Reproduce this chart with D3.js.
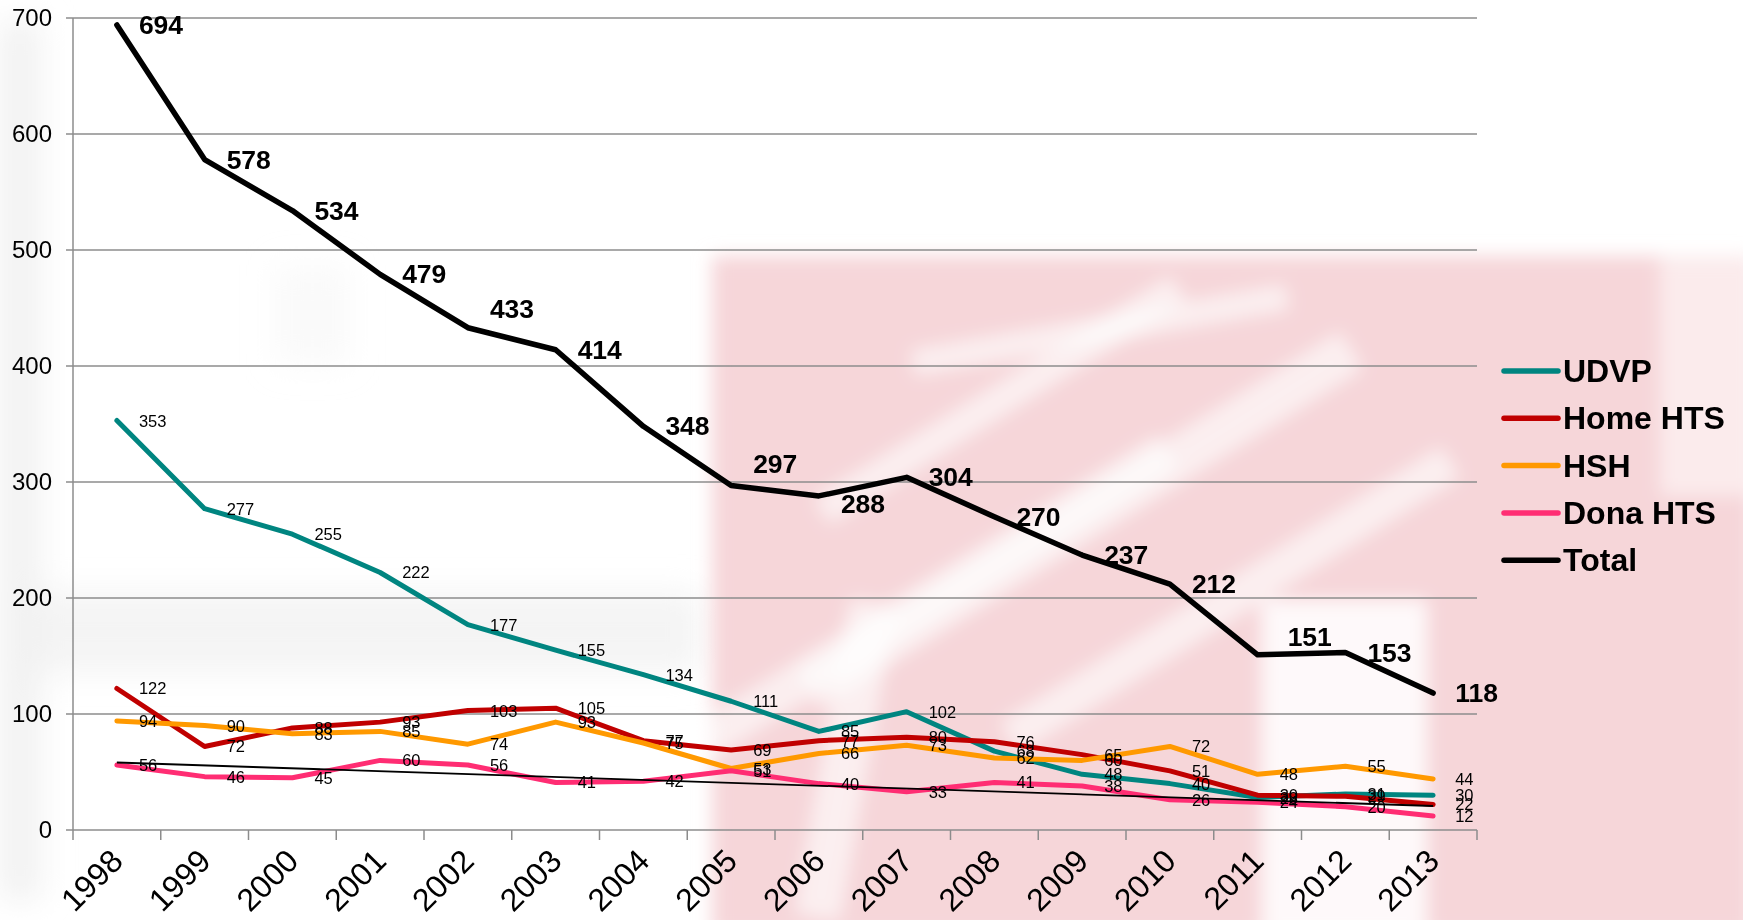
<!DOCTYPE html>
<html>
<head>
<meta charset="utf-8">
<script src="https://cdn.jsdelivr.net/npm/d3@7"></script>
<style>
  html, body { margin: 0; padding: 0; background: #ffffff; }
  svg { display: block; font-family: "Liberation Sans", Arial, sans-serif; }
</style>
</head>
<body>
<svg id="chart" width="1743" height="920"></svg>
<script>
// ---- data ----
const years = ["1998","1999","2000","2001","2002","2003","2004","2005",
               "2006","2007","2008","2009","2010","2011","2012","2013"];
const udvp    = [353, 277, 255, 222, 177, 155, 134, 111, 85, 102, 68, 48, 40, 28, 31, 30];
const homeHts = [122,  72,  88,  93, 103, 105,  77,  69, 77,  80, 76, 65, 51, 30, 29, 22];
const hsh     = [ 94,  90,  83,  85,  74,  93,  75,  53, 66,  73, 62, 60, 72, 48, 55, 44];
const donaHts = [ 56,  46,  45,  60,  56,  41,  42,  51, 40,  33, 41, 38, 26, 24, 20, 12];
const total   = [694, 578, 534, 479, 433, 414, 348, 297, 288, 304, 270, 237, 212, 151, 153, 118];
const yTicks  = [0, 100, 200, 300, 400, 500, 600, 700];
const seriesNames  = ["UDVP", "Home HTS", "HSH", "Dona HTS", "Total"];
const seriesColors = ["#008580", "#C00000", "#FF9900", "#FF2D73", "#000000"];

const seriesValues = [udvp, homeHts, hsh, donaHts, total];
const series = seriesNames.map((name, i) => ({
  name, color: seriesColors[i], values: seriesValues[i], isTotal: name === "Total"
}));

// nudges for a few bold total labels that would otherwise sit on the line
const totalLabelShift = { "2002": [0, -19], "2005": [0, -21], "2006": [0, 8], "2011": [8, -18] };

// ---- layout ----
const svg = d3.select("#chart");
const W = 1743, H = 920;
const plot = { left: 73, right: 1477, top: 18, bottom: 830 };

const x = d3.scaleBand().domain(years).range([plot.left, plot.right]).padding(0);
const cx = d => x(d) + x.bandwidth() / 2;
const y = d3.scaleLinear().domain([0, 700]).range([plot.bottom, plot.top]);

// ---- faded background emblem ----
const defs = svg.append("defs");
function blurFilter(id, sd) {
  defs.append("filter").attr("id", id)
    .attr("x", "-30%").attr("y", "-30%").attr("width", "160%").attr("height", "160%")
    .append("feGaussianBlur").attr("stdDeviation", sd);
}
blurFilter("soft", 9);
blurFilter("softer", 16);

const bg = svg.append("g").attr("class", "backdrop");
bg.append("rect").attr("width", W).attr("height", H).attr("fill", "#ffffff");

// faint grey lettering on the left
const greyG = bg.append("g").attr("filter", "url(#softer)").attr("fill", "#f1f1f1");
greyG.append("rect").attr("x", 0).attr("y", 20).attr("width", 40).attr("height", 880);
greyG.append("rect").attr("x", 0).attr("y", 592).attr("width", 700).attr("height", 80).attr("opacity", 0.8);
greyG.append("rect").attr("x", 275).attr("y", 265).attr("width", 75).attr("height", 100).attr("opacity", 0.35);

// pink emblem with lighter diagonal streaks
const pinkG = bg.append("g").attr("filter", "url(#soft)");
pinkG.append("rect").attr("x", 712).attr("y", 256).attr("width", 1040).attr("height", 680)
  .attr("fill", "#F6D6D9");
const streaks = [
  { cx: 930,  cy: 600, len: 560, w: 38, a: -32 },
  { cx: 1080, cy: 520, len: 640, w: 44, a: -32 },
  { cx: 1000, cy: 400, len: 420, w: 30, a: -32 },
  { cx: 1230, cy: 600, len: 520, w: 36, a: -32 },
  { cx: 1100, cy: 330, len: 380, w: 26, a: -10 },
  { cx: 845,  cy: 760, len: 320, w: 46, a: -80 }
];
streaks.forEach(g => {
  pinkG.append("rect")
    .attr("x", -g.len / 2).attr("y", -g.w / 2)
    .attr("width", g.len).attr("height", g.w)
    .attr("fill", "#ffffff").attr("opacity", 0.6)
    .attr("transform", `translate(${g.cx},${g.cy}) rotate(${g.a})`);
});
pinkG.append("rect").attr("x", 1262).attr("y", 600).attr("width", 165).attr("height", 340)
  .attr("fill", "#ffffff").attr("opacity", 0.85);
pinkG.append("rect").attr("x", 1660).attr("y", 256).attr("width", 90).attr("height", 240)
  .attr("fill", "#ffffff").attr("opacity", 0.5);

// ---- grid and axes ----
const gridG = svg.append("g");
gridG.selectAll("line.grid").data(yTicks).join("line")
  .attr("class", "grid")
  .attr("x1", plot.left - 7).attr("x2", plot.right)
  .attr("y1", d => y(d)).attr("y2", d => y(d))
  .attr("stroke", "#8c8c8c").attr("stroke-width", 1.5);

gridG.append("line")
  .attr("x1", plot.left).attr("x2", plot.left)
  .attr("y1", plot.top).attr("y2", plot.bottom)
  .attr("stroke", "#8c8c8c").attr("stroke-width", 1.5);

const yAxis = d3.axisLeft(y).tickValues(yTicks).tickSize(0).tickPadding(21);
const yG = svg.append("g").attr("transform", `translate(${plot.left},0)`).call(yAxis);
yG.select(".domain").remove();
yG.selectAll("text")
  .attr("font-size", 24).attr("fill", "#000")
  .attr("font-family", "'Liberation Sans', Arial, sans-serif");

// x axis: ticks at category boundaries, rotated labels at centers
const xTickPos = years.map(d => x(d)).concat([plot.right]);
svg.append("g").selectAll("line").data(xTickPos).join("line")
  .attr("x1", d => d).attr("x2", d => d)
  .attr("y1", plot.bottom).attr("y2", plot.bottom + 10)
  .attr("stroke", "#8c8c8c").attr("stroke-width", 1.5);

const xAxis = d3.axisBottom(x).tickSize(0).tickPadding(0);
const xG = svg.append("g").attr("transform", `translate(0,${plot.bottom})`).call(xAxis);
xG.select(".domain").remove();
xG.selectAll(".tick text")
  .attr("font-size", 32).attr("fill", "#000")
  .attr("font-family", "'Liberation Sans', Arial, sans-serif")
  .attr("text-anchor", "end")
  .attr("dy", 0).attr("y", 0)
  .attr("transform", "translate(8,33) rotate(-45)");

// ---- lines ----
const line = d3.line().x((d, i) => cx(years[i])).y(d => y(d));
const linesG = svg.append("g");
series.forEach(s => {
  linesG.append("path")
    .datum(s.values)
    .attr("d", line)
    .attr("fill", "none")
    .attr("stroke", s.color)
    .attr("stroke-width", s.isTotal ? 5.5 : 5)
    .attr("stroke-linejoin", "round")
    .attr("stroke-linecap", "round");
});

// linear trend of Dona HTS
const n = donaHts.length;
const xs = d3.range(n);
const mx = d3.mean(xs), my = d3.mean(donaHts);
const slope = d3.sum(xs, i => (i - mx) * (donaHts[i] - my)) / d3.sum(xs, i => (i - mx) ** 2);
const intercept = my - slope * mx;
linesG.append("line")
  .attr("x1", cx(years[0])).attr("y1", y(intercept))
  .attr("x2", cx(years[n - 1])).attr("y2", y(intercept + slope * (n - 1)))
  .attr("stroke", "#000").attr("stroke-width", 1.8);

// ---- value labels ----
const labelsG = svg.append("g");
series.forEach(s => {
  labelsG.selectAll(null).data(s.values).join("text")
    .attr("x", (d, i) => cx(years[i]) + 22 + (s.isTotal ? (totalLabelShift[years[i]] || [0, 0])[0] : 0))
    .attr("y", (d, i) => y(d) + (s.isTotal ? (totalLabelShift[years[i]] || [0, 0])[1] : 0))
    .attr("dominant-baseline", "central")
    .attr("font-size", s.isTotal ? 26.5 : 16.5)
    .attr("font-weight", s.isTotal ? "bold" : "normal")
    .attr("fill", "#000")
    .text(d => d);
});

// ---- legend ----
const legend = svg.append("g").attr("transform", "translate(1504,371)");
series.forEach((s, i) => {
  const row = legend.append("g").attr("transform", `translate(0,${i * 47.3})`);
  row.append("line").attr("x1", 0).attr("x2", 54).attr("y1", 0).attr("y2", 0)
    .attr("stroke", s.color).attr("stroke-width", 5.5).attr("stroke-linecap", "round");
  row.append("text").attr("x", 59).attr("y", 0)
    .attr("dominant-baseline", "central")
    .attr("font-size", 32).attr("font-weight", "bold").attr("fill", "#000")
    .text(s.name);
});
</script>
</body>
</html>
